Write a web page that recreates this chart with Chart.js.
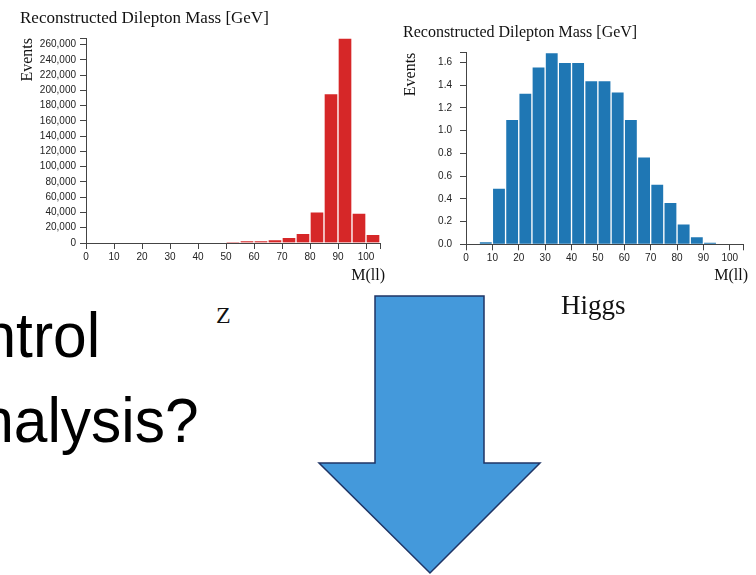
<!DOCTYPE html>
<html>
<head>
<meta charset="utf-8">
<title>Dilepton mass</title>
<script src="https://cdn.jsdelivr.net/npm/chart.js@4.4.1/dist/chart.umd.min.js"></script>
<style>
  html, body { margin: 0; padding: 0; background: #fff; }
  body { width: 756px; height: 575px; position: relative; overflow: hidden; }
  canvas { position: absolute; top: 0; }
  #zChart { left: 0; }
  #hChart { left: 390px; }
  .slide { position: absolute; font-family: "Liberation Sans", Arial, sans-serif; font-size: 63px; line-height: 63px; color: #000; white-space: nowrap; text-align: right; transform: scaleX(0.96); transform-origin: right center; }
  .tag { position: absolute; font-family: "Liberation Serif", "Times New Roman", serif; line-height: 27px; color: #111; white-space: nowrap; }
  svg { position: absolute; left: 0; top: 0; }
</style>
</head>
<body>
<canvas id="zChart" width="400" height="290"></canvas>
<canvas id="hChart" width="366" height="290"></canvas>

<div class="slide" style="right:656px; top:304px;">Control</div>
<div class="slide" style="right:557px; top:389px;">analysis?</div>
<div class="tag" style="left:216px; top:302px; font-size:24px;">Z</div>
<div class="tag" style="left:561px; top:292px; font-size:27px;">Higgs</div>

<svg width="756" height="575">
  <polygon points="375,296 484,296 484,463 540,463 430,573 319,463 375,463"
           fill="#4499db" stroke="#1f3566" stroke-width="1.5" stroke-linejoin="miter"/>
</svg>

<script>
const SERIF = '"Liberation Serif", "Times New Roman", serif';
const SANS = '"Liberation Sans", Arial, sans-serif';

// 5 GeV bins, bin centres on the mass axis
const zBins = [52.5, 57.5, 62.5, 67.5, 72.5, 77.5, 82.5, 87.5, 92.5, 97.5, 102.5];
const zEvents = [1200, 3000, 3000, 4400, 7400, 12700, 40700, 195800, 268700, 39300, 11500];

const hBins = [7.5, 12.5, 17.5, 22.5, 27.5, 32.5, 37.5, 42.5, 47.5, 52.5, 57.5, 62.5, 67.5, 72.5, 77.5, 82.5, 87.5, 92.5];
const hEvents = [0.023, 0.495, 1.10, 1.33, 1.56, 1.685, 1.60, 1.60, 1.44, 1.44, 1.34, 1.10, 0.77, 0.53, 0.37, 0.18, 0.068, 0.018];

const massTicks = [0, 10, 20, 30, 40, 50, 60, 70, 80, 90, 100];
const massMax = 105;
const zEventTicks = [0, 20000, 40000, 60000, 80000, 100000, 120000, 140000, 160000, 180000, 200000, 220000, 240000, 260000];
const hEventTicks = [0, 0.2, 0.4, 0.6, 0.8, 1.0, 1.2, 1.4, 1.6];

// writes the x-axis caption just past the end of the axis
const axisCaption = {
  id: "axisCaption",
  afterDraw(chart, args, opts){
    const { ctx, chartArea } = chart;
    ctx.save();
    ctx.font = `16px ${SERIF}`;
    ctx.fillStyle = "#111";
    ctx.textAlign = "right";
    ctx.textBaseline = "alphabetic";
    ctx.fillText(opts.text, chartArea.right + opts.dx, chartArea.bottom + opts.dy);
    ctx.restore();
  }
};

function histogram(canvasId, o){
  const axisColor = "#444";
  const tickFont = { family: SANS, size: 10 };
  return new Chart(document.getElementById(canvasId), {
    type: "bar",
    data: {
      datasets: [{
        data: o.bins.map((x, i) => ({ x, y: o.values[i] })),
        backgroundColor: o.color,
        borderColor: "#fff",
        borderWidth: 1,
        barPercentage: 1,
        categoryPercentage: 1
      }]
    },
    plugins: [axisCaption],
    options: {
      responsive: false,
      animation: false,
      layout: { padding: o.padding },
      plugins: {
        legend: { display: false },
        tooltip: { enabled: false },
        title: {
          display: true,
          text: "Reconstructed Dilepton Mass [GeV]",
          align: "start",
          color: "#111",
          font: { family: SERIF, size: o.titleSize, weight: "normal" },
          padding: o.titlePad
        },
        axisCaption: { text: "M(ll)", dx: 5, dy: o.captionDy }
      },
      scales: {
        x: {
          type: "linear",
          min: 0,
          max: massMax,
          offset: false,
          afterBuildTicks: s => { s.ticks = [...massTicks, massMax].map(value => ({ value })); },
          afterFit: s => { s.height = o.xHeight; },
          ticks: {
            autoSkip: false, maxRotation: 0, padding: 2,
            color: "#222", font: tickFont,
            callback: v => massTicks.includes(v) ? String(v) : ""
          },
          grid: { drawOnChartArea: false, drawTicks: true, tickLength: 6, color: axisColor, offset: false },
          border: { display: true, color: axisColor }
        },
        y: {
          min: 0,
          max: Math.max(...o.values),
          afterBuildTicks: s => { s.ticks = [...o.yTicks, s.max].map(value => ({ value })); },
          afterFit: s => { s.width = o.yWidth; },
          ticks: {
            autoSkip: false, padding: o.yTickPad,
            color: "#222", font: tickFont,
            callback: v => o.yTicks.includes(v) ? o.fmt(v) : ""
          },
          grid: { drawOnChartArea: false, drawTicks: true, tickLength: 6, color: axisColor },
          border: { display: true, color: axisColor },
          title: {
            display: true,
            text: "Events",
            align: "end",
            color: "#111",
            font: { family: SERIF, size: 16, lineHeight: 1 },
            padding: 0
          }
        }
      }
    }
  });
}

histogram("zChart", {
  bins: zBins, values: zEvents, yTicks: zEventTicks, color: "#d62728",
  fmt: v => v.toLocaleString("en-US"),
  padding: { left: 20, right: 20, top: 0, bottom: 7 },
  titleSize: 17, titlePad: { top: 8, bottom: 9.6 },
  yWidth: 66, xHeight: 40, captionDy: 37, yTickPad: 4
});

histogram("hChart", {
  bins: hBins, values: hEvents, yTicks: hEventTicks, color: "#1f77b4",
  fmt: v => v.toFixed(1),
  padding: { left: 13, right: 13, top: 0, bottom: 6 },
  titleSize: 16, titlePad: { top: 23, bottom: 10.5 },
  yWidth: 63, xHeight: 39.7, captionDy: 36, yTickPad: 8
});
</script>
</body>
</html>
